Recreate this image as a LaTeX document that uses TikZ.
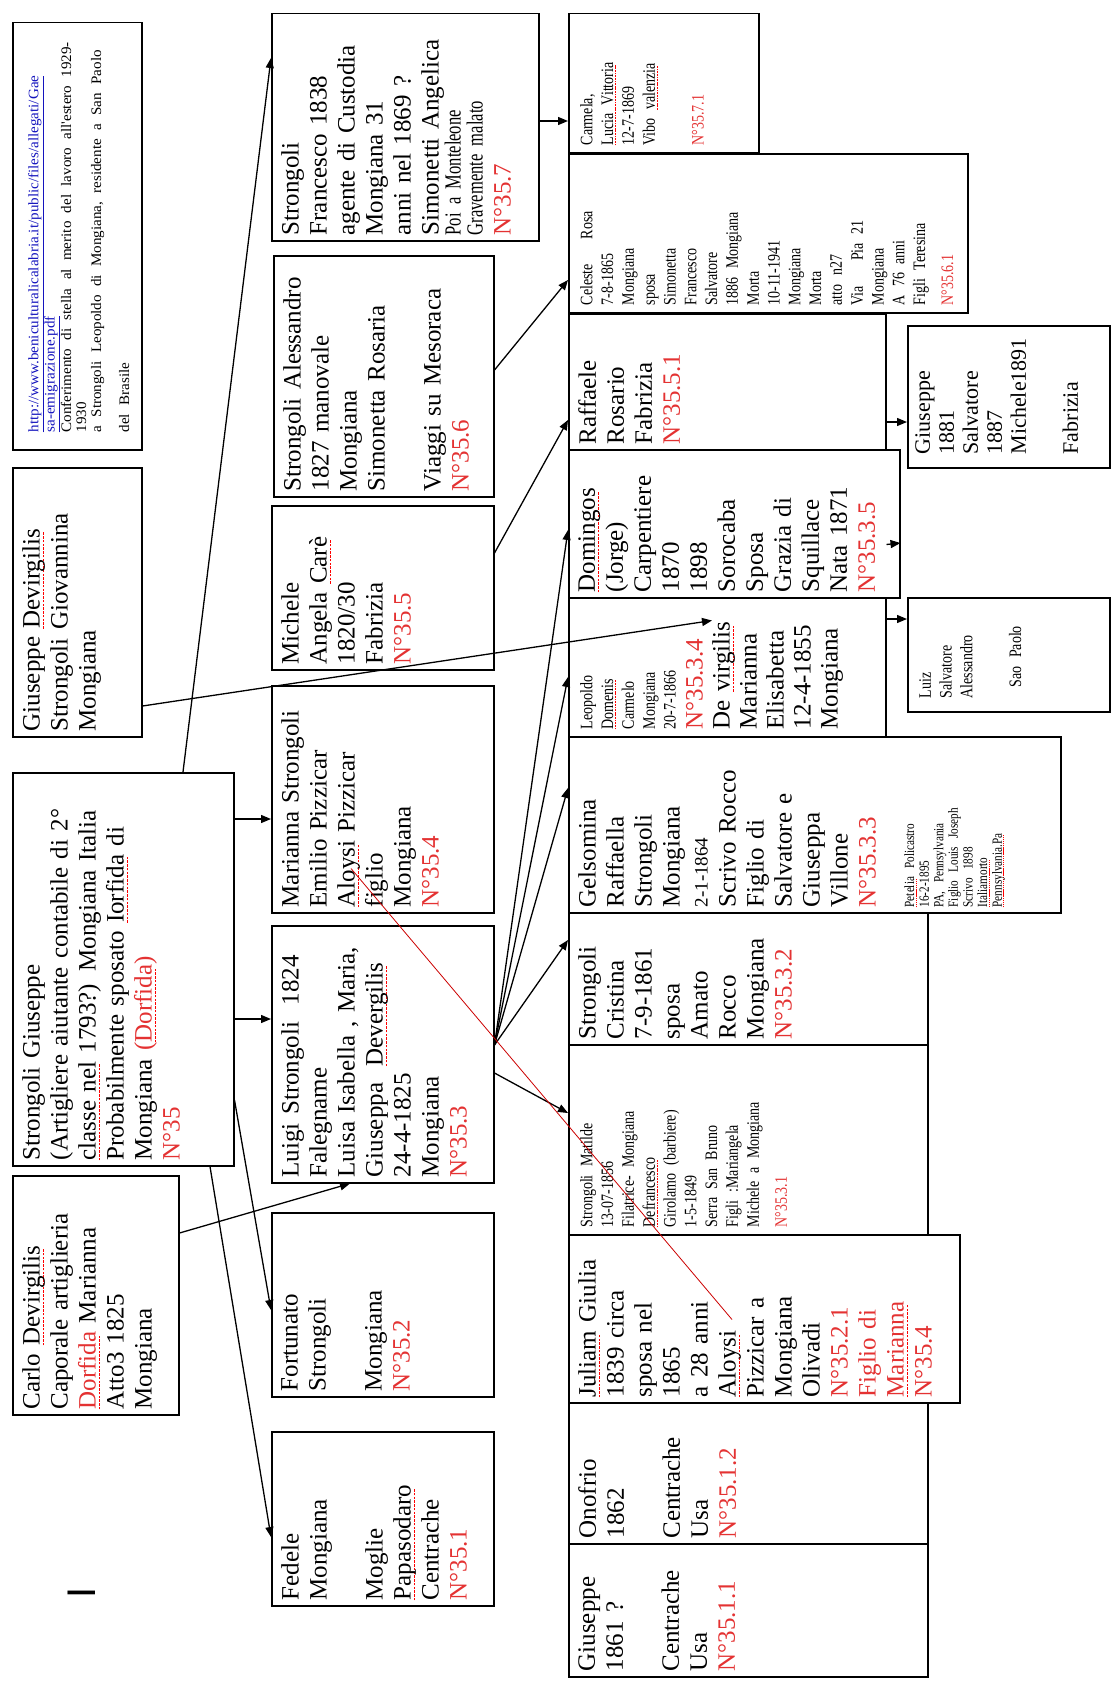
\documentclass[tikz,border=0pt]{standalone}
\usepackage{fontspec}
\setmainfont{Liberation Serif}
\newfontfamily\condf[FakeStretch=0.8]{Liberation Serif}
\newfontfamily\vcondf[FakeStretch=0.72]{Liberation Serif}
\newfontfamily\widef[FakeStretch=1.04]{Liberation Serif}
\newfontfamily\sansf{Liberation Sans}
\usetikzlibrary{arrows.meta}
\setlength\parindent{0pt}
\definecolor{nred}{RGB}{228,50,50}
\definecolor{ublue}{RGB}{20,20,190}
\newcommand\BT{\fontsize{25pt}{28pt}\selectfont}
\newcommand\ST{\condf\fontsize{17.5pt}{20.8pt}\selectfont}
\newcommand\TT{\condf\fontsize{14pt}{14.6pt}\selectfont}
\newcommand\NR[1]{\textcolor{nred}{#1}}
\newcommand\sq[1]{\leavevmode\setbox0\hbox{#1}\rlap{\color{red}\hbox to \wd0{\leaders\hbox{\rule[-0.17em]{0.1em}{0.05em}\kern0.05em}\hfill}}\box0\relax}
\newcommand\jl[1]{\makebox[138pt][s]{#1}}
\newcommand\bx[5]{\node[box, minimum width={(#4-#2)*1pt}, minimum height={(#5-#3)*1pt}] (#1) at (#2,#3) {};}
\newcommand\tx[4][(10,-6)]{\node[txt, text width=#3pt] (#2t) at ([shift={#1}]#2.south west) {#4};}
\begin{document}
\begin{tikzpicture}[x=1pt,y=-1pt,
  box/.style={draw, line width=1.5pt, inner sep=0pt, anchor=north west},
  txt/.style={rotate=90, anchor=north west, inner sep=0pt, align=left, font=\BT},
  arr/.style={line width=1.3pt, -{Triangle[length=10pt,width=8pt]}},
  redl/.style={red!80!black, line width=0.8pt}]
\fill[white] (0,0) rectangle (1112,1686);
\useasboundingbox (0,0) rectangle (1112,1686);
% ---------- boxes ----------
\bx{nurl}{12}{22}{141}{449}
\bx{ngdev}{12}{467}{141}{736}
\bx{n35}{12}{772}{233}{1165}
\bx{ncarlo}{12}{1175}{178}{1414}
\bx{n357}{271}{13}{538}{240}
\bx{n356}{273}{255}{493}{496}
\bx{n355}{271}{505}{493}{669}
\bx{n354}{271}{685}{493}{912}
\bx{n353}{271}{925}{493}{1182}
\bx{n352}{271}{1212}{493}{1396}
\bx{n351}{271}{1431}{493}{1605}
\bx{n3571}{568}{13}{758}{152}
\bx{n3561}{568}{153}{967}{312}
\bx{n3551}{568}{313}{885}{449}
\bx{ng1881}{907}{325}{1109}{467}
\bx{n3535}{568}{449}{899}{597}
\bx{nluiz}{907}{597}{1109}{711}
\bx{n3534}{568}{597}{885}{736}
\bx{n3533}{568}{736}{1060}{912}
\bx{n3532}{568}{912}{927}{1044}
\bx{n3531}{568}{1044}{927}{1234}
\bx{n3521}{568}{1234}{959}{1402}
\bx{n3512}{568}{1402}{927}{1543}
\bx{n3511}{568}{1543}{927}{1676}
% ---------- texts ----------
\tx[(16,-18)]{nurl}{540}{\widef\fontsize{14.5pt}{15pt}\selectfont
\textcolor{ublue}{\underline{http://www.beniculturalicalabria.it/public/files/allegati/Gae}}\\
\textcolor{ublue}{\underline{sa-emigrazione.pdf}}\\
Conferimento di stella al merito del lavoro all'estero 1929-\\
1930\\
a Strongoli Leopoldo di Mongiana, residente a San Paolo\\
del Brasile}
\tx{ngdev}{300}{Giuseppe \sq{Devirgilis}\\Strongoli Giovannina\\Mongiana}
\tx{n35}{430}{Strongoli Giuseppe\\(Artigliere aiutante contabile di 2°\\\sq{classe nel} 1793?) Mongiana Italia\\Probabilmente sposato \sq{Iorfida} di\\Mongiana \NR{(\sq{Dorfida})}\\\NR{N°35}}
\tx{ncarlo}{270}{Carlo \sq{Devirgilis}\\Caporale artiglieria\\\NR{\sq{Dorfida}} Marianna\\Atto3 1825\\Mongiana}
\tx{n357}{260}{Strongoli\\Francesco 1838\\agente di Custodia\\Mongiana 31\\anni nel 1869 ?\\Simonetti Angelica\par
{\vcondf\fontsize{23pt}{22pt}\selectfont Poi a Monteleone\\Gravemente malato\par}
{\BT\NR{N°35.7}\par}}
\tx{n356}{270}{Strongoli Alessandro\\1827 manovale\\Mongiana\\Simonetta Rosaria\\~\\Viaggi su Mesoraca\\\NR{N°35.6}}
\tx{n355}{200}{Michele\\Angela \sq{Carè}\\1820/30\\Fabrizia\\\NR{N°35.5}}
\tx{n354}{260}{Marianna Strongoli\\Emilio Pizzicar\\\sq{Aloysi} Pizzicar\\figlio\\Mongiana\\\NR{N°35.4}}
\tx{n353}{290}{Luigi Strongoli~ 1824\\Falegname\\Luisa Isabella , Maria,\\Giuseppa~ \sq{Devergilis}\\24-4-1825\\Mongiana\\\NR{N°35.3}}
\tx{n352}{220}{Fortunato\\Strongoli\\~\\Mongiana\\\NR{N°35.2}}
\tx{n351}{220}{Fedele\\Mongiana\\~\\Moglie\\\sq{Papasodaro}\\Centrache\\\NR{N°35.1}}
\tx[(12,-8)]{n3571}{180}{\ST Carmela,\\\sq{Lucia Vittoria}\\12-7-1869\\Vibo \sq{valenzia}\\~\\\NR{N°35.7.1}}
\tx[(12,-8)]{n3561}{200}{\ST Celeste~~ Rosa\\7-8-1865\\Mongiana\\sposa\\Simonetta\\Francesco\\Salvatore\\1886 Mongiana\\Morta\\10-11-1941\\Mongiana\\Morta\\atto n27\\Via~~ Pia 21\\Mongiana\\A 76 anni\\Figli Teresina\\\NR{N°35.6.1}}
\tx{n3551}{180}{Raffaele\\Rosario\\Fabrizia\\\NR{N°35.5.1}}
\tx[(8,-14)]{ng1881}{180}{\fontsize{22pt}{24pt}\selectfont Giuseppe\\1881\\Salvatore\\1887\\Michele1891\\~\\Fabrizia}
\tx{n3535}{190}{\sq{Domingos}\\(Jorge)\\Carpentiere\\1870\\1898\\Sorocaba\\Sposa\\Grazia di\\Squillace\\Nata 1871\\\NR{N°35.3.5}}
\tx[(12,-14)]{nluiz}{150}{\ST Luiz\\Salvatore\\Alessandro\\~\\\hspace*{11pt}Sao Paolo}
\tx[(12,-8)]{n3534}{180}{{\ST Leopoldo\\\sq{Domenis}\\Carmelo\\Mongiana\\20-7-1866\par}
{\fontsize{25pt}{27pt}\selectfont\NR{N°35.3.4}\\De \sq{virgilis}\\Marianna\\Elisabetta\\12-4-1855\\Mongiana\par}}
\tx{n3533}{220}{{\BT Gelsomina\\Raffaella\\Strongoli\\Mongiana\\{\fontsize{19pt}{28pt}\selectfont 2-1-1864}\\Scrivo Rocco\\Figlio di\\Salvatore e\\Giuseppa\\Villone\\\NR{N°35.3.3}\par}
\vspace{24pt}
{\TT \sq{Petelia} Policastro\\16-2-1895\\PA, Pennsylvania\\Figlio Louis Joseph\\Scrivo 1898\\\sq{Italiamorto}\\\sq{Pennsylvania.Pa}\par}}
\tx{n3532}{170}{Strongoli\\Cristina\\7-9-1861\\sposa\\Amato\\Rocco\\Mongiana\\\NR{N°35.3.2}}
\tx[(12,-8)]{n3531}{220}{\ST \jl{Strongoli Matilde}\\13-07-1856\\\jl{Filatrice- Mongiana}\\\sq{Defrancesco}\\\jl{Girolamo (barbiere)}\\1-5-1849\\\jl{Serra San Bruno}\\\jl{Figli :Mariangela}\\\jl{Michele a Mongiana}\\\NR{N°35.3.1}}
\tx{n3521}{200}{\sq{Juliam} Giulia\\1839 circa\\sposa nel\\1865\\a 28 anni\\\sq{Aloysi}\\Pizzicar a\\Mongiana\\Olivadi\\\NR{N°35.2.1}\\\NR{Figlio di}\\\NR{\sq{Marianna}}\\\NR{N°35.4}}
\tx{n3512}{180}{Onofrio\\1862\\~\\Centrache\\Usa\\\NR{N°35.1.2}}
\tx{n3511}{180}{Giuseppe\\1861 ?\\~\\Centrache\\Usa\\\NR{N°35.1.1}}
\node[rotate=90, inner sep=0pt, font=\sansf\fontsize{40pt}{40pt}\selectfont] (mark) at (82,1593) {I};
% ---------- connectors ----------
\draw[arr] ([shift={(171,0)}]n35.north west) -- ([shift={(0,45)}]n357.north west);
\draw[arr] ([shift={(0,47)}]n35.north east) -- ([shift={(0,134)}]n354.north west);
\draw[arr] ([shift={(0,247)}]n35.north east) -- ([shift={(0,94)}]n353.north west);
\draw[arr] ([shift={(0,328)}]n35.north east) -- ([shift={(0,98)}]n352.north west);
\draw[arr] ([shift={(198,0)}]n35.south west) -- ([shift={(0,106)}]n351.north west);
\draw[arr] ([shift={(0,58)}]ncarlo.north east) -- ([shift={(79,0)}]n353.south west);
\draw[arr] ([shift={(0,239)}]ngdev.north east) -- ([shift={(144,-117)}]n3534.south west);
\draw[arr] ([shift={(0,48)}]n355.north east) -- ([shift={(0,107)}]n3551.north west);
\draw[arr] ([shift={(0,115)}]n356.north east) -- ([shift={(0,127)}]n3561.north west);
\draw[arr] ([shift={(0,108)}]n357.north east) -- ([shift={(0,108)}]n3571.north west);
\draw[arr] ([shift={(0,120)}]n353.north east) -- ([shift={(0,81)}]n3535.north west);
\draw[arr] ([shift={(0,120)}]n353.north east) -- ([shift={(0,80)}]n3534.north west);
\draw[arr] ([shift={(0,120)}]n353.north east) -- ([shift={(0,52)}]n3533.north west);
\draw[arr] ([shift={(0,120)}]n353.north east) -- ([shift={(0,28)}]n3532.north west);
\draw[arr] ([shift={(0,148)}]n353.north east) -- ([shift={(0,69)}]n3531.north west);
\draw[arr] ([shift={(0,109)}]n3551.north east) -- ([shift={(0,97)}]ng1881.north west);
\draw[arr] ([shift={(0,22)}]n3534.north east) -- ([shift={(0,22)}]nluiz.north west);
\draw[arr] ([shift={(0,94)}]n3551.south east) -- ([shift={(0,94)}]n3535.north east);
\draw[redl] ([shift={(80,-45)}]n354.south west) -- ([shift={(164,-84)}]n3521.south west);
\end{tikzpicture}
\end{document}
